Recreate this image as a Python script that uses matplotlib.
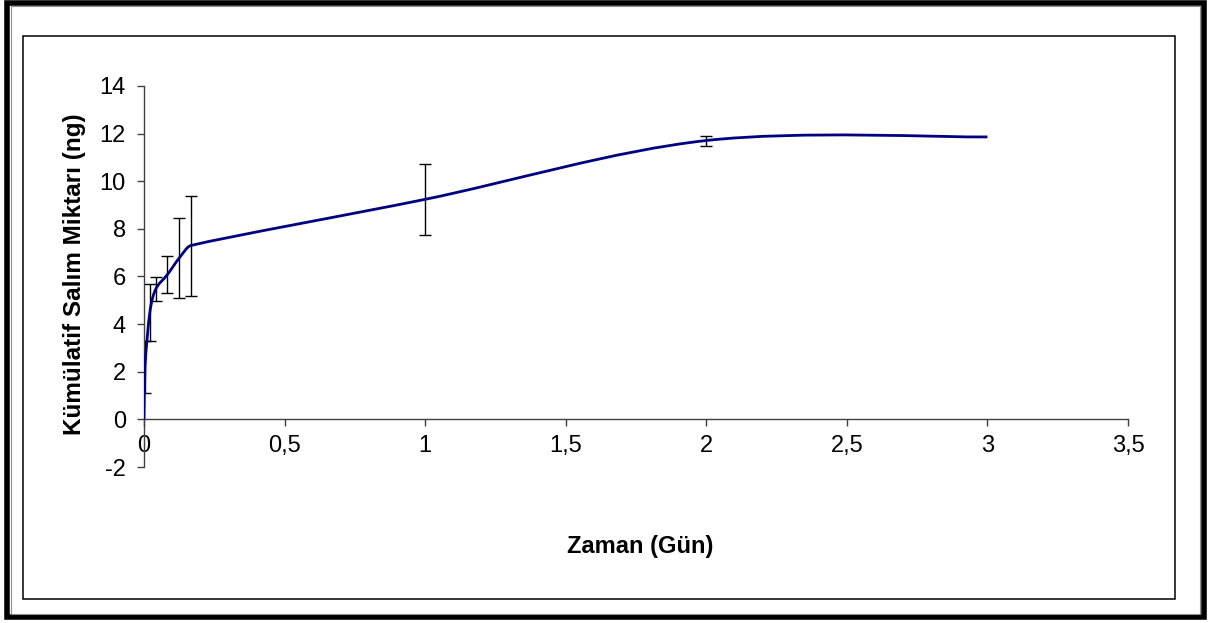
import numpy as np
import matplotlib
matplotlib.use("Agg")
import matplotlib.pyplot as plt
from matplotlib.path import Path
from matplotlib.patches import PathPatch, Rectangle

plt.rcParams['font.family'] = ['Liberation Sans', 'DejaVu Sans']
plt.rcParams['axes.unicode_minus'] = False

# data (time in days, cumulative release in ng)
zaman = [0, 0.0035, 0.0208, 0.0417, 0.0833, 0.125, 0.1667, 1, 2, 3]
salim = [0, 2.2, 4.5, 5.47, 6.08, 6.77, 7.3, 9.24, 11.71, 11.86]
hata = [0, 1.1, 1.2, 0.52, 0.78, 1.67, 2.1, 1.49, 0.21, 0]

x_ticks = [0, 0.5, 1, 1.5, 2, 2.5, 3, 3.5]
x_labels = ['0', '0,5', '1', '1,5', '2', '2,5', '3', '3,5']
y_ticks = [-2, 0, 2, 4, 6, 8, 10, 12, 14]


def smooth_path(xs, ys):
    # excel-like smoothed line: catmull-rom bezier, tangents limited so it never loops back
    P = np.column_stack([xs, ys]).astype(float)
    n = len(P)
    T = np.zeros_like(P)
    for i in range(n):
        a = P[max(i - 1, 0)]
        b = P[min(i + 1, n - 1)]
        T[i] = (b - a) / 6.0
    verts = [P[0]]
    codes = [Path.MOVETO]
    for i in range(n - 1):
        h = (P[i + 1, 0] - P[i, 0]) / 3.0
        t1 = T[i] if T[i, 0] <= h else T[i] * h / T[i, 0]
        t2 = T[i + 1] if T[i + 1, 0] <= h else T[i + 1] * h / T[i + 1, 0]
        verts += [P[i] + t1, P[i + 1] - t2, P[i + 1]]
        codes += [Path.CURVE4] * 3
    return Path(verts, codes)


fig = plt.figure(figsize=(12.08, 6.23), dpi=100)
ax = fig.add_axes([0.1192, 0.2504, 0.8146, 0.6116])

ax.add_patch(PathPatch(smooth_path(zaman, salim), facecolor='none',
                       edgecolor='#000080', lw=2, zorder=3))

m = np.array(hata) > 0
ax.errorbar(np.array(zaman)[m], np.array(salim)[m], yerr=np.array(hata)[m],
            fmt='none', ecolor='black', elinewidth=1, capsize=4, capthick=1, zorder=2)

ax.set_xlim(0, 3.5)
ax.set_ylim(-2, 14)
ax.set_xticks(x_ticks)
ax.set_xticklabels(x_labels)
ax.set_yticks(y_ticks)

ax.spines['top'].set_visible(False)
ax.spines['right'].set_visible(False)
ax.spines['bottom'].set_position(('data', 0))
for s in ['left', 'bottom']:
    ax.spines[s].set_color('#404040')
    ax.spines[s].set_linewidth(1)
ax.tick_params(axis='both', direction='out', length=5, width=1, color='#404040',
               labelsize=17, labelcolor='black')
ax.tick_params(axis='y', pad=8)
ax.tick_params(axis='x', pad=6)

fig.text(640 / 1208, (623 - 547) / 623, 'Zaman (Gün)', fontsize=17,
         fontweight='bold', ha='center', va='center')
fig.text(75 / 1208, (623 - 274) / 623, 'Kümülatif Salım Miktarı (ng)', fontsize=17.5,
         fontweight='bold', ha='center', va='center', rotation=90)

# chart area box and outer frame
fig.patches.append(Rectangle((23 / 1208, 24 / 623), 1152 / 1208, 563 / 623,
                             transform=fig.transFigure, fill=False,
                             edgecolor='black', lw=1.1))
fig.patches.append(Rectangle((7.5 / 1208, 6 / 623), 1196.5 / 1208, 614.5 / 623,
                             transform=fig.transFigure, fill=False,
                             edgecolor='black', lw=4))
fig.patches.append(Rectangle((11 / 1208, 9.5 / 623), 1189 / 1208, 608 / 623,
                             transform=fig.transFigure, fill=False,
                             edgecolor='#909090', lw=0.8))

fig.savefig('out.png', dpi=100)
